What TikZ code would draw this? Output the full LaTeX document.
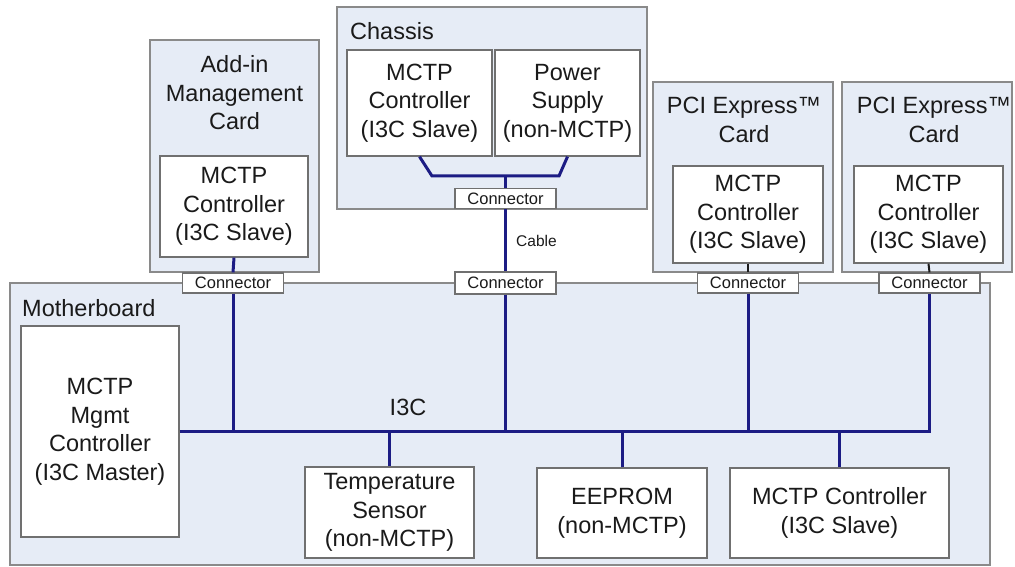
\documentclass[tikz,border=0pt]{standalone}
\usepackage{fontspec}
\setmainfont{Liberation Sans}
\definecolor{panel}{HTML}{E6ECF6}
\definecolor{framegray}{HTML}{8A8A8A}
\definecolor{boxgray}{HTML}{707070}
\definecolor{busblue}{HTML}{1C1C84}
\definecolor{ink}{HTML}{1A1A1A}
\tikzset{
  container/.style={draw=framegray, fill=panel, line width=1.5pt, inner sep=0pt},
  unitbox/.style={draw=boxgray, fill=white, line width=1.3pt, inner sep=0pt, align=center, text=ink,
     font=\fontsize{23.5}{28.5}\selectfont},
  bigtxt/.style={align=center, text=ink, inner sep=0pt, font=\fontsize{23.5}{28.5}\selectfont},
  conn/.style={draw=boxgray, fill=white, line width=1.2pt, inner sep=0pt, minimum width=101pt,
     minimum height=20pt, text=ink, font=\fontsize{16.5}{18}\selectfont},
  smalltxt/.style={text=ink, inner sep=0pt, font=\fontsize{15.5}{18}\selectfont},
  bus/.style={draw=busblue, line width=3pt}
}
\begin{document}
\begin{tikzpicture}[x=1pt,y=-1pt]
\useasboundingbox (0,0) rectangle (1015,567);
% containers
\node[container, minimum width=980pt, minimum height=282pt] (mb) at (500,424) {};
\node[container, minimum width=169pt, minimum height=232pt] (addin) at (234.5,156) {};
\node[container, minimum width=310pt, minimum height=202pt] (chassis) at (492,108) {};
\node[container, minimum width=180pt, minimum height=190pt] (pci1) at (743,177) {};
\node[container, minimum width=170pt, minimum height=190pt] (pci2) at (927,177) {};
% titles
\node[bigtxt] (addintitle) at (234.5,93) {Add-in\\Management\\Card};
\node[bigtxt, anchor=west] (chassistitle) at (350,31) {Chassis};
\node[bigtxt] (pci1title) at (744,120) {PCI Express™\\Card};
\node[bigtxt] (pci2title) at (934,120) {PCI Express™\\Card};
\node[bigtxt, anchor=west] (mbtitle) at (22,308) {Motherboard};
% inner boxes
\node[unitbox, minimum width=148pt, minimum height=101pt] (addinmc) at (234,206.5) {MCTP\\Controller\\(I3C Slave)};
\node[unitbox, minimum width=145pt, minimum height=106pt] (cmc) at (419.5,103) {MCTP\\Controller\\(I3C Slave)};
\node[unitbox, minimum width=145pt, minimum height=106pt] (ps) at (567.5,103) {Power\\Supply\\(non-MCTP)};
\node[unitbox, minimum width=150pt, minimum height=97pt] (pci1mc) at (748,214.5) {MCTP\\Controller\\(I3C Slave)};
\node[unitbox, minimum width=149pt, minimum height=97pt] (pci2mc) at (928.5,214.5) {MCTP\\Controller\\(I3C Slave)};
\node[unitbox, minimum width=158pt, minimum height=211pt] (mgmt) at (100,431.5) {MCTP\\Mgmt\\Controller\\(I3C Master)};
\node[unitbox, minimum width=169pt, minimum height=91pt] (temp) at (389.5,512.5) {Temperature\\Sensor\\(non-MCTP)};
\node[unitbox, minimum width=170pt, minimum height=90pt] (eeprom) at (622,513) {EEPROM\\(non-MCTP)};
\node[unitbox, minimum width=219pt, minimum height=90pt] (mbmc) at (839.5,513) {MCTP Controller\\(I3C Slave)};
% connectors
\node[conn] (ccon) at (505.5,198.5) {Connector};
\node[conn] (addcon) at (233,283) {Connector};
\node[conn, minimum height=22pt] (midcon) at (505.5,283) {Connector};
\node[conn] (pci1con) at (748,283) {Connector};
\node[conn] (pci2con) at (929.5,283) {Connector};
% chassis wiring
\coordinate (cjl) at (432,176);
\coordinate (cjr) at (559,176);
\coordinate (cjm) at (505.5,176);
\draw[bus] (cmc.south) -- (cjl) -- (cjr) -- (ps.south);
\draw[bus] (cjm) -- (ccon.north);
\draw[bus] (ccon.south) -- (midcon.north);
\node[smalltxt, anchor=west] (cable) at (516,241) {Cable};
% card to connector stubs
\draw[bus] (addinmc.south) -- (addcon.north);
\draw[bus, draw=ink, line width=2pt] (pci1mc.south) -- (pci1con.north);
\draw[bus, draw=ink, line width=2pt] (pci2mc.south) -- (pci2con.north);
% I3C bus
\draw[bus] (mgmt.east) -- (mgmt.east -| pci2con.south) -- (pci2con.south);
\draw[bus] (addcon.south) -- (addcon.south |- mgmt.east);
\draw[bus] (midcon.south) -- (midcon.south |- mgmt.east);
\draw[bus] (pci1con.south) -- (pci1con.south |- mgmt.east);
\draw[bus] (temp.north) -- (temp.north |- mgmt.east);
\draw[bus] (eeprom.north) -- (eeprom.north |- mgmt.east);
\draw[bus] (mbmc.north) -- (mbmc.north |- mgmt.east);
\node[bigtxt] (i3c) at (408,407) {I3C};
\end{tikzpicture}
\end{document}
